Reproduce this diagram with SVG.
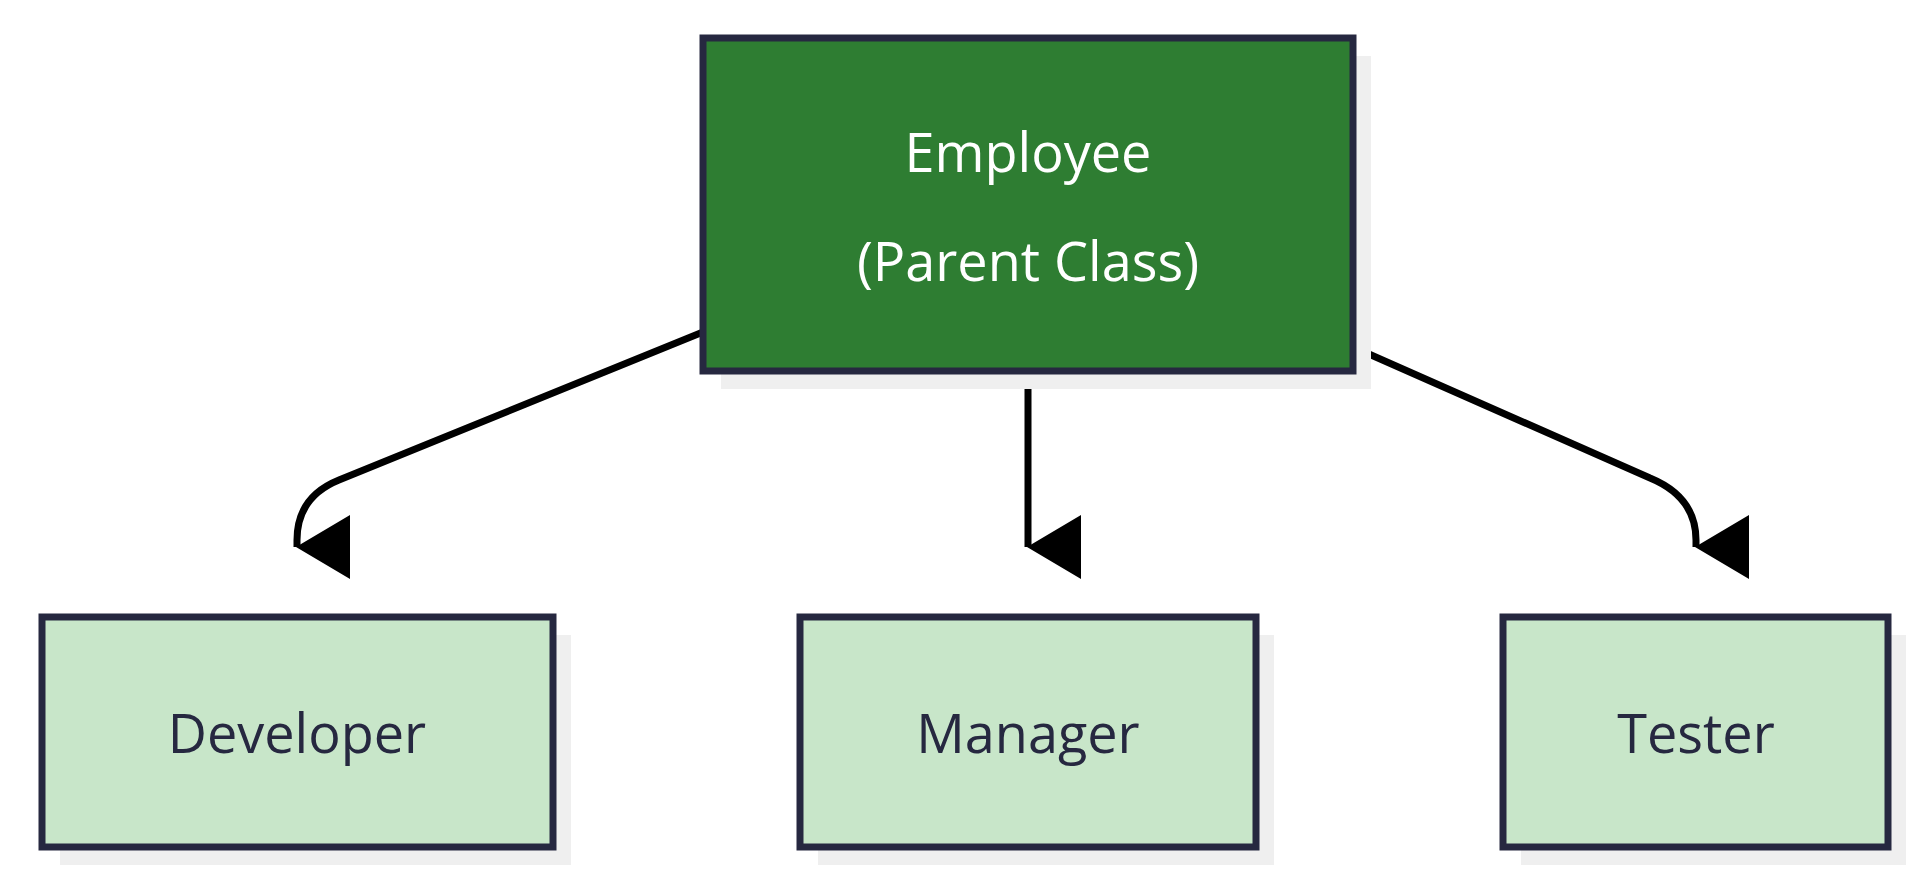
<svg xmlns="http://www.w3.org/2000/svg" width="1930" height="885" viewBox="0 0 1930 885">
<style>
.sh{fill:#efefef}
.n{stroke:#262840;stroke-width:7}
.t{font-family:"Open Sans","Liberation Sans",sans-serif;font-size:54px;text-anchor:middle}
.e{fill:none;stroke:#000;stroke-width:7}
</style>
<defs><marker id="a" markerUnits="userSpaceOnUse" markerWidth="64" markerHeight="54" refX="32" refY="53" orient="auto-start-reverse" viewBox="0 0 64 54"><path d="M0,0H64L32,54Z" fill="#000"/></marker></defs>
<rect width="1930" height="885" fill="#fff"/>
<g id="connectors">
<path class="e" d="M703,332L339,480Q297,497 297,540V547" marker-end="url(#a)"/>
<path class="e" d="M1028,371V547" marker-end="url(#a)"/>
<path class="e" d="M1353,347L1650,478Q1696,497 1696,540V547" marker-end="url(#a)"/>
</g>
<g id="employee"><rect class="sh" x="721" y="56" width="650" height="333"/><rect class="n" x="703" y="38" width="650" height="333" fill="#2e7d32"/><text class="t" fill="#fff" x="1028" y="172">Employee</text><text class="t" fill="#fff" x="1028" y="281">(Parent Class)</text></g>
<g id="developer"><rect class="sh" x="60" y="635" width="511" height="230"/><rect class="n" x="42" y="617" width="511" height="230" fill="#c8e6c9"/><text class="t" fill="#262840" x="297" y="753">Developer</text></g>
<g id="manager"><rect class="sh" x="818" y="635" width="456" height="230"/><rect class="n" x="800" y="617" width="456" height="230" fill="#c8e6c9"/><text class="t" fill="#262840" x="1028" y="753">Manager</text></g>
<g id="tester"><rect class="sh" x="1521" y="635" width="385" height="230"/><rect class="n" x="1503" y="617" width="385" height="230" fill="#c8e6c9"/><text class="t" fill="#262840" x="1696" y="753">Tester</text></g>
</svg>
